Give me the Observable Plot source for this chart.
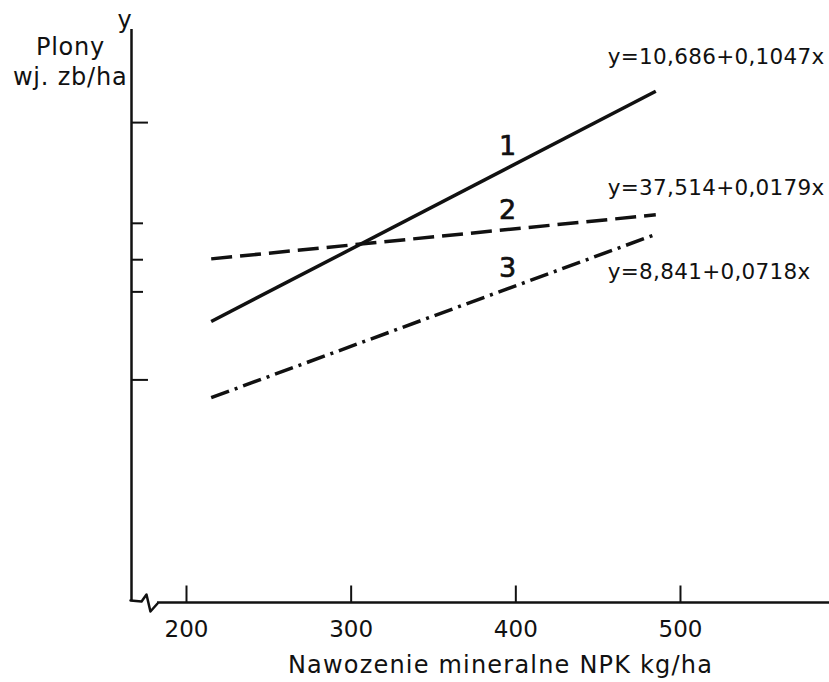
<!DOCTYPE html>
<html>
<head>
<meta charset="utf-8">
<script src="https://cdn.jsdelivr.net/npm/d3@7"></script>
<script src="https://cdn.jsdelivr.net/npm/@observablehq/plot@0.6"></script>
<style>
  html, body { margin: 0; padding: 0; background: #fff; }
  svg { display: block; }
</style>
</head>
<body>
<div id="chart"></div>
<script>
// ---- data ----
const xDomain = [166.6, 590.5];
const yDomain = [0, 67.7];
const xTicks = [200, 300, 400, 500];
const yTicksLong = [56.7, 26.3];
const yTicksShort = [44.8, 40.5, 36.7];
const seriesNames = ["1", "2", "3"];
const equations = ["y=10,686+0,1047x", "y=37,514+0,0179x", "y=8,841+0,0718x"];
const xStartEnd = [215, 485];
const series1 = [33.2, 60.4];
const series2 = [40.6, 45.8];
const series3 = [24.2, 43.5];
const axisBreakX = [166.0, 172.7, 175.7, 178.1, 182.4];
const axisBreakY = [0.24, 0.12, 0.95, -1.06, -0.12];
const xTitle = "Nawozenie mineralne NPK kg/ha";
const yTitle = ["Plony", "wj. zb/ha"];
const numberLabelX = 395;

// ---- build ----
const allSeries = [series1, series2, series3];
const rows = [];
allSeries.forEach((s, i) => s.forEach((v, j) => rows.push({name: seriesNames[i], x: xStartEnd[j], y: v})));
const endRows = allSeries.map((s, i) => ({name: seriesNames[i], eq: equations[i], x: xStartEnd[1], y: s[1]}));
const numRows = allSeries.map((s, i) => ({
  name: seriesNames[i], x: numberLabelX,
  y: s[0] + (s[1] - s[0]) * (numberLabelX - xStartEnd[0]) / (xStartEnd[1] - xStartEnd[0])
}));
const breakRows = axisBreakX.map((x, i) => ({x, y: axisBreakY[i]}));
const dashes = {"1": null, "2": "21,8", "3": "19,6,3,6"};
const eqDy = [-34, -27, 38];
const numDy = [-22, -19, -20];
const font = "DejaVu Sans, sans-serif";

const plot = Plot.plot({
  width: 829,
  height: 682,
  marginLeft: 131,
  marginRight: 0,
  marginTop: 29,
  marginBottom: 80,
  x: {domain: xDomain, axis: null},
  y: {domain: yDomain, axis: null},
  style: {fontFamily: font, background: "#fff", color: "#111"},
  marks: [
    // y axis
    Plot.ruleX([xDomain[0]], {y1: 0.24, y2: yDomain[1], stroke: "#111", strokeWidth: 2.5}),
    // x axis with break
    Plot.line(breakRows, {x: "x", y: "y", stroke: "#111", strokeWidth: 2.5, curve: "linear"}),
    Plot.ruleY([0], {x1: axisBreakX[axisBreakX.length - 1], x2: xDomain[1], stroke: "#111", strokeWidth: 2.5}),
    // x ticks
    Plot.ruleX(xTicks, {x: d => d, y1: 0, y2: 1.95, stroke: "#111", strokeWidth: 2}),
    Plot.text(xTicks, {x: d => d, y: 0, dy: 27, text: d => String(d), fontSize: 23, fill: "#111"}),
    // y ticks
    Plot.ruleY(yTicksLong, {y: d => d, x1: xDomain[0], x2: xDomain[0] + 10.3, stroke: "#111", strokeWidth: 2}),
    Plot.ruleY(yTicksShort, {y: d => d, x1: xDomain[0], x2: xDomain[0] + 7.3, stroke: "#111", strokeWidth: 2}),
    // lines
    ...seriesNames.map(n => Plot.line(rows.filter(r => r.name === n), {
      x: "x", y: "y", stroke: "#111", strokeWidth: 3.5, strokeDasharray: dashes[n], strokeLinecap: "butt"
    })),
    // equation labels
    ...endRows.map((r, i) => Plot.text([r], {
      x: "x", y: "y", text: "eq", dx: -48, dy: eqDy[i], textAnchor: "start", fontSize: 21.5, fill: "#111"
    })),
    // number labels
    ...numRows.map((r, i) => Plot.text([r], {
      x: "x", y: "y", text: "name", dy: numDy[i], fontSize: 27, fill: "#111", stroke: "#111", strokeWidth: 0.7
    })),
    // axis titles
    Plot.text([xTitle], {x: 390.7, y: 0, dy: 63, text: d => d, fontSize: 24, fill: "#111"}),
    Plot.text([yTitle[0]], {x: xDomain[0], y: yDomain[1], dx: -61, dy: 18, text: d => d, fontSize: 24, fill: "#111"}),
    Plot.text([yTitle[1]], {x: xDomain[0], y: yDomain[1], dx: -4, dy: 48, textAnchor: "end", text: d => d, fontSize: 24, fill: "#111"}),
    Plot.text(["y"], {x: xDomain[0], y: yDomain[1], dx: -7, dy: -9, text: d => d, fontSize: 24, fill: "#111"})
  ]
});
const sel = d3.select(plot).selectAll("text");
sel.filter(function() { return this.textContent === xTitle; }).attr("letter-spacing", "1.2px");
sel.filter(function() { return equations.includes(this.textContent); }).attr("letter-spacing", "0.3px");
sel.filter(function() { return yTitle.includes(this.textContent); }).attr("letter-spacing", "0.8px");
document.getElementById("chart").appendChild(plot);
</script>
</body>
</html>
